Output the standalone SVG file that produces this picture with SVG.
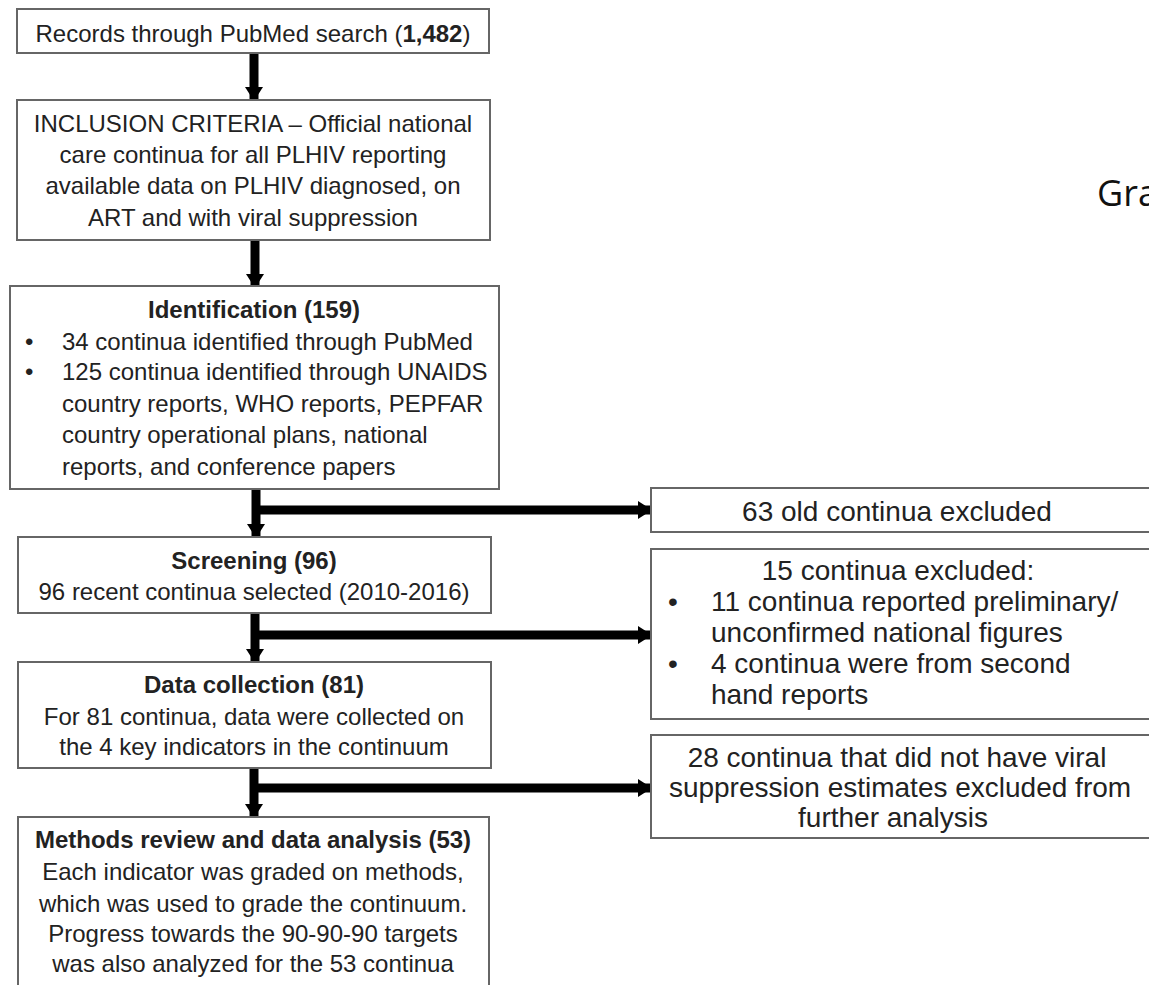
<svg xmlns="http://www.w3.org/2000/svg" width="1149" height="985" viewBox="0 0 1149 985">
<style>
.box{fill:#fff;stroke:#666;stroke-width:2}
text{font-family:"Liberation Sans",Arial,sans-serif;font-size:24px;fill:#222}
.r text{font-size:28px}
.c{text-anchor:middle}
.b{font-weight:bold}
.conn{stroke:#000;stroke-width:9;fill:none}
</style>
<defs>
<marker id="ah" markerUnits="userSpaceOnUse" markerWidth="14" markerHeight="18" refX="13" refY="9" orient="auto">
<path d="M0,0 L14,9 L0,18 z" fill="#000"/>
</marker>
</defs>
<rect width="1149" height="985" fill="#fff"/>
<g id="connectors">
<line class="conn" x1="254" y1="53" x2="254" y2="100" marker-end="url(#ah)"/>
<line class="conn" x1="255" y1="240" x2="255" y2="287" marker-end="url(#ah)"/>
<line class="conn" x1="256" y1="489" x2="256" y2="537" marker-end="url(#ah)"/>
<line class="conn" x1="256" y1="510" x2="651" y2="510" marker-end="url(#ah)"/>
<line class="conn" x1="255" y1="613" x2="255" y2="662" marker-end="url(#ah)"/>
<line class="conn" x1="255" y1="635" x2="651" y2="635" marker-end="url(#ah)"/>
<line class="conn" x1="254" y1="768" x2="254" y2="817" marker-end="url(#ah)"/>
<line class="conn" x1="254" y1="788" x2="651" y2="788" marker-end="url(#ah)"/>
</g>
<g id="records">
<rect class="box" x="17" y="9" width="472" height="44"/>
<text class="c" x="253" y="42">Records through PubMed search (<tspan class="b">1,482</tspan>)</text>
</g>
<g id="inclusion">
<rect class="box" x="17" y="100" width="473" height="140"/>
<text class="c" x="253" y="132">INCLUSION CRITERIA – Official national</text>
<text class="c" x="253" y="163">care continua for all PLHIV reporting</text>
<text class="c" x="253" y="194">available data on PLHIV diagnosed, on</text>
<text class="c" x="253" y="226">ART and with viral suppression</text>
</g>
<g id="identification">
<rect class="box" x="10" y="286" width="489" height="203"/>
<text class="c b" x="254" y="318">Identification (159)</text>
<text x="25" y="350">•</text>
<text x="62" y="350">34 continua identified through PubMed</text>
<text x="25" y="380">•</text>
<text x="62" y="380">125 continua identified through UNAIDS</text>
<text x="62" y="412">country reports, WHO reports, PEPFAR</text>
<text x="62" y="443">country operational plans, national</text>
<text x="62" y="475">reports, and conference papers</text>
</g>
<g id="screening">
<rect class="box" x="18" y="537" width="473" height="76"/>
<text class="c b" x="254" y="569">Screening (96)</text>
<text class="c" x="254" y="600">96 recent continua selected (2010-2016)</text>
</g>
<g id="datacollection">
<rect class="box" x="18" y="662" width="473" height="106"/>
<text class="c b" x="254" y="693">Data collection (81)</text>
<text class="c" x="254" y="725">For 81 continua, data were collected on</text>
<text class="c" x="254" y="755">the 4 key indicators in the continuum</text>
</g>
<g id="methods">
<rect class="box" x="18" y="817" width="471" height="180"/>
<text class="c b" x="253" y="848">Methods review and data analysis (53)</text>
<text class="c" x="253" y="880">Each indicator was graded on methods,</text>
<text class="c" x="253" y="912">which was used to grade the continuum.</text>
<text class="c" x="253" y="942">Progress towards the 90-90-90 targets</text>
<text class="c" x="253" y="972">was also analyzed for the 53 continua</text>
</g>
<g id="old-excluded" class="r">
<rect class="box" x="651" y="488" width="520" height="44"/>
<text class="c" x="897" y="521">63 old continua excluded</text>
</g>
<g id="fifteen-excluded" class="r">
<rect class="box" x="651" y="549" width="520" height="170"/>
<text class="c" x="898" y="580">15 continua excluded:</text>
<text x="668" y="611">•</text>
<text x="711" y="611">11 continua reported preliminary/</text>
<text x="711" y="642">unconfirmed national figures</text>
<text x="668" y="673">•</text>
<text x="711" y="673">4 continua were from second</text>
<text x="711" y="704">hand reports</text>
</g>
<g id="twentyeight-excluded" class="r">
<rect class="box" x="651" y="735" width="520" height="103"/>
<text class="c" x="897" y="767">28 continua that did not have viral</text>
<text class="c" x="900" y="797">suppression estimates excluded from</text>
<text class="c" x="893" y="827">further analysis</text>
</g>
<text x="1097" y="206" style="font-family:'Open Sans',sans-serif;font-size:36px;fill:#111">Gra</text>
</svg>
